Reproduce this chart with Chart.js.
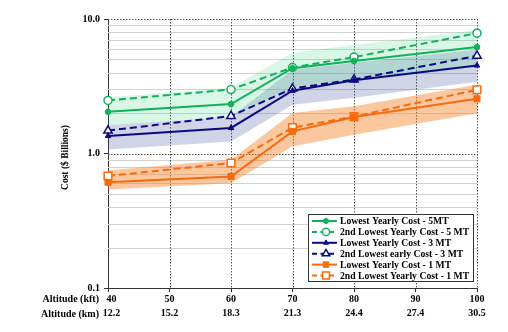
<!DOCTYPE html>
<html><head><meta charset="utf-8">
<style>html,body{margin:0;padding:0;background:#fff;}#wrap{width:508px;height:332px;position:relative;}</style>
<script src="https://cdn.jsdelivr.net/npm/chart.js@4/dist/chart.umd.min.js"></script>
</head><body><div id="wrap"><canvas id="c" width="508" height="332"></canvas></div>
<script>
// ---- data ----
const altitudesKft = [40, 60, 70, 80, 100];
const xTickKft = [40, 50, 60, 70, 80, 90, 100];
const xTickKm = ['12.2', '15.2', '18.3', '21.3', '24.4', '27.4', '30.5'];
const yTickLabels = ['0.1', '1.0', '10.0'];
const yTitle = 'Cost ($ Billions)';
const rowLabels = ['Altitude (kft)', 'Altitude (km)'];

const seriesNames = [
  'Lowest Yearly Cost - 5MT',
  '2nd Lowest Yearly Cost - 5 MT',
  'Lowest Yearly Cost - 3 MT',
  '2nd Lowest early Cost - 3 MT',
  'Lowest Yearly Cost - 1 MT',
  '2nd Lowest Yearly Cost - 1 MT'
];
const low5    = [2.04, 2.33, 4.31, 4.87, 6.18];
const second5 = [2.48, 2.99, 4.36, 5.21, 7.85];
const low3    = [1.35, 1.55, 2.93, 3.51, 4.51];
const second3 = [1.48, 1.90, 3.04, 3.55, 5.33];
const low1    = [0.61, 0.675, 1.46, 1.87, 2.55];
const second1 = [0.68, 0.85, 1.56, 1.88, 2.98];

const band5Hi = [2.63, 3.08, 5.6, 6.4, 8.3];
const band5Lo = [1.63, 1.88, 3.13, 3.5, 4.4];
const band3Hi = [1.63, 1.88, 4.19, 4.72, 5.9];
const band3Lo = [1.07, 1.23, 2.3, 2.6, 3.41];
const band1Hi = [0.75, 0.9, 2.0, 2.25, 3.24];
const band1Lo = [0.54, 0.6, 1.13, 1.38, 1.99];

// ---- styling ----
const GREEN = '#12b05a', NAVY = '#0a0a80', ORANGE = '#f76b0e';
const FONT = '"Liberation Serif", "Times New Roman", serif';
const pts = arr => arr.map((v, i) => ({x: altitudesKft[i], y: v}));

function lineDS(label, data, color, dashed, style, radius, open) {
  return {
    label, data: pts(data), borderColor: color, borderWidth: 2,
    borderDash: dashed ? [7, 4] : [],
    pointStyle: style, pointRadius: radius,
    pointBackgroundColor: open ? '#ffffff' : color,
    pointBorderColor: color, pointBorderWidth: open ? 1.5 : 1,
    fill: false, tension: 0, clip: false, isLine: true, isOpen: open
  };
}
function bandDS(data, color, fillTarget) {
  return {
    label: '', data: pts(data), borderWidth: 0, pointRadius: 0,
    backgroundColor: color, fill: fillTarget, tension: 0, isLine: false
  };
}

const datasets = [
  lineDS(seriesNames[0], low5, GREEN, false, 'circle', 2.8, false),
  lineDS(seriesNames[1], second5, GREEN, true, 'circle', 4, true),
  lineDS(seriesNames[2], low3, NAVY, false, 'triangle', 3.2, false),
  lineDS(seriesNames[3], second3, NAVY, true, 'triangle', 4.8, true),
  lineDS(seriesNames[4], low1, ORANGE, false, 'rect', 4.3, false),
  lineDS(seriesNames[5], second1, ORANGE, true, 'rect', 5.4, true),
  bandDS(band5Hi, 'rgba(40,210,120,0.18)', '+1'),
  bandDS(band5Lo, 'rgba(0,0,0,0)', false),
  bandDS(band3Hi, 'rgba(40,60,140,0.22)', '+1'),
  bandDS(band3Lo, 'rgba(0,0,0,0)', false),
  bandDS(band1Hi, 'rgba(245,130,40,0.45)', '+1'),
  bandDS(band1Lo, 'rgba(0,0,0,0)', false)
];

const gridPlugin = {
  id: 'gridPlugin',
  beforeDatasetsDraw(chart) {
    const {ctx, chartArea: a, scales: {x, y}} = chart;
    ctx.save();
    ctx.strokeStyle = '#d2d2d2'; ctx.lineWidth = 1; ctx.setLineDash([]);
    [0.1, 1].forEach(d => {
      for (let m = 2; m <= 9; m++) {
        const py = Math.round(y.getPixelForValue(m * d)) + 0.5;
        ctx.beginPath(); ctx.moveTo(a.left, py); ctx.lineTo(a.right, py); ctx.stroke();
      }
    });
    ctx.strokeStyle = '#555'; ctx.setLineDash([1.5, 1.5]);
    [1, 10].forEach(v => {
      const py = Math.round(y.getPixelForValue(v)) + 0.5;
      ctx.beginPath(); ctx.moveTo(a.left, py); ctx.lineTo(a.right, py); ctx.stroke();
    });
    xTickKft.slice(1).forEach(v => {
      const px = Math.round(x.getPixelForValue(v)) + 0.5;
      ctx.beginPath(); ctx.moveTo(px, a.top); ctx.lineTo(px, a.bottom); ctx.stroke();
    });
    ctx.restore();
  },
  afterDraw(chart) {
    const {ctx, chartArea: a} = chart;
    ctx.save();
    ctx.fillStyle = '#000';
    ctx.font = 'bold 9.5px ' + FONT;
    ctx.translate(66, (a.top + a.bottom) / 2 + 4);
    ctx.rotate(-Math.PI / 2);
    ctx.textAlign = 'center'; ctx.textBaseline = 'middle';
    ctx.fillText(yTitle, 0, 0);
    ctx.restore();
    ctx.save();
    ctx.fillStyle = '#000';
    ctx.font = 'bold 10px ' + FONT;
    ctx.textAlign = 'right'; ctx.textBaseline = 'middle';
    ctx.fillText(rowLabels[0], 99, a.bottom + 11.5);
    ctx.fillText(rowLabels[1], 99, a.bottom + 26);
    // legend
    const lx = 308, ly = 214, lw = 165, lh = 67;
    ctx.fillStyle = '#fff';
    ctx.fillRect(lx, ly, lw, lh);
    ctx.strokeStyle = '#333'; ctx.lineWidth = 1; ctx.setLineDash([]);
    ctx.strokeRect(lx + 0.5, ly + 0.5, lw, lh);
    const lines = chart.data.datasets.filter(d => d.isLine);
    lines.forEach((d, i) => {
      const cy = ly + 7 + i * 10.9;
      ctx.save();
      ctx.strokeStyle = d.borderColor; ctx.lineWidth = 2;
      ctx.setLineDash(d.borderDash.length ? [5, 3.5] : []);
      ctx.beginPath(); ctx.moveTo(lx + 4, cy); ctx.lineTo(lx + 29, cy); ctx.stroke();
      ctx.setLineDash([]);
      ctx.fillStyle = d.pointBackgroundColor; ctx.strokeStyle = d.pointBorderColor;
      ctx.lineWidth = d.pointBorderWidth;
      Chart.helpers.drawPoint(ctx, {pointStyle: d.pointStyle, radius: d.pointRadius * 0.9, borderWidth: d.pointBorderWidth, rotation: 0}, lx + 18, cy);
      ctx.restore();
      ctx.fillStyle = '#000';
      ctx.textAlign = 'left'; ctx.textBaseline = 'middle';
      ctx.font = 'bold 9.7px ' + FONT;
      ctx.fillText(d.label, lx + 32, cy + 0.5);
    });
    ctx.restore();
  }
};

new Chart(document.getElementById('c'), {
  type: 'line',
  data: {datasets},
  plugins: [gridPlugin],
  options: {
    responsive: false, animation: false, devicePixelRatio: 1,
    layout: {padding: {left: 0, right: 31, top: 19, bottom: 0}},
    plugins: {legend: {display: false}, tooltip: {enabled: false}},
    scales: {
      x: {
        type: 'linear', min: 40, max: 100,
        afterFit: s => { s.height = 44; },
        afterBuildTicks: s => { s.ticks = xTickKft.map(v => ({value: v})); },
        ticks: {
          autoSkip: false, maxRotation: 0, padding: 0, color: '#000',
          font: {family: FONT, size: 10, weight: 'bold', lineHeight: 1.45},
          callback: (v) => {
            const i = xTickKft.indexOf(v);
            if (i < 0) return '';
            const pad = i === 0 ? '\u2002\u2009' : '';
            return [pad + String(v), pad + xTickKm[i]];
          }
        },
        grid: {drawOnChartArea: false, drawTicks: true, tickLength: 4, tickColor: '#333'},
        border: {color: '#333', width: 1}
      },
      y: {
        type: 'logarithmic', min: 0.1, max: 10,
        afterFit: s => { s.width = 108; },
        afterBuildTicks: s => { s.ticks = [0.1, 1, 10].map(v => ({value: v})); },
        ticks: {
          autoSkip: false, padding: 4, color: '#000',
          font: {family: FONT, size: 10, weight: 'bold'},
          callback: (v) => { const i = [0.1, 1, 10].findIndex(t => Math.abs(t - v) < 1e-9); return i < 0 ? '' : yTickLabels[i]; }
        },
        grid: {drawOnChartArea: false, drawTicks: true, tickLength: 4, tickColor: '#333'},
        border: {color: '#333', width: 1}
      }
    }
  }
});
</script>
</body></html>
